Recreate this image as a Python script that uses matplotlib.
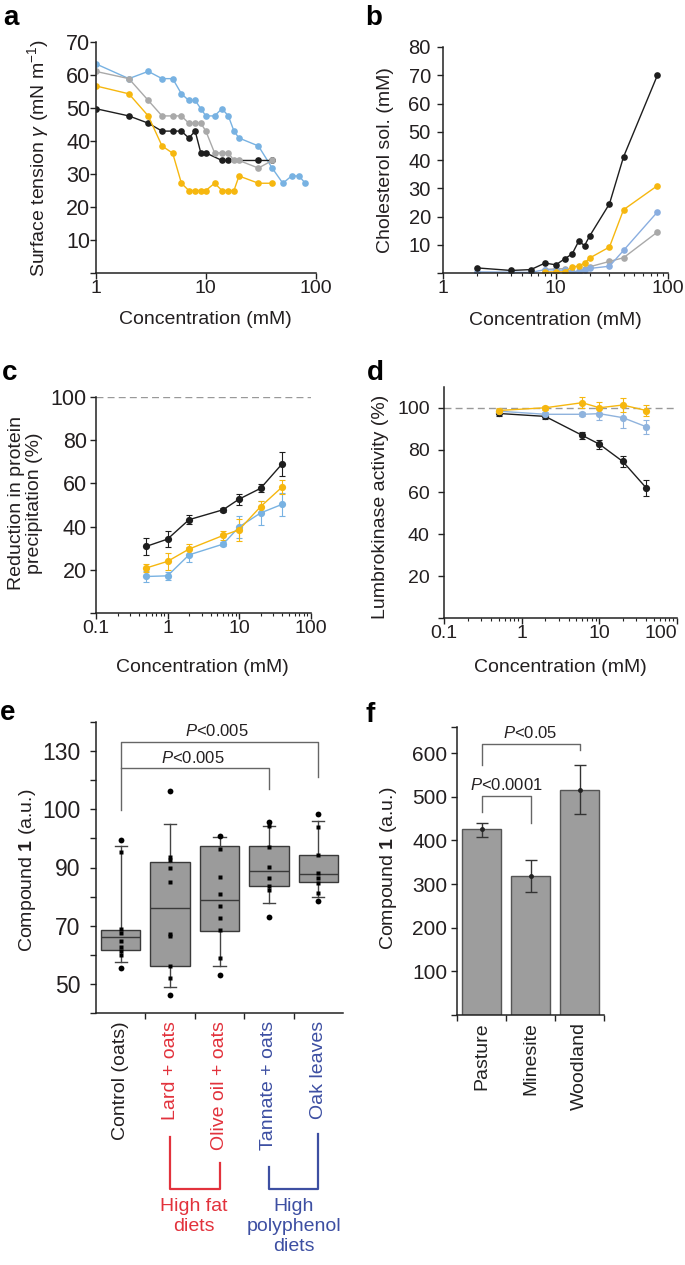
import matplotlib
matplotlib.use('Agg')
import matplotlib.pyplot as plt
import numpy as np

plt.rcParams['font.family'] = ['Liberation Sans', 'DejaVu Sans']
plt.rcParams['mathtext.fontset'] = 'custom'
plt.rcParams['mathtext.rm'] = 'Liberation Sans'
plt.rcParams['mathtext.it'] = 'Liberation Sans:italic'
plt.rcParams['mathtext.bf'] = 'Liberation Sans:bold'

# colours
BLACK = '#1e1e1e'
YELLOW = '#f6b70f'
BLUE = '#78b2e2'
GRAY = '#a9a9a9'
RED = '#e2323c'
NAVY = '#3d4fa2'
TXT = '#231f20'

# ---- panel a: surface tension (mN/m) vs concentration (mM)
a_conc = [1, 2, 3, 4, 5, 6, 7, 8, 9, 10, 12, 14, 16, 18, 20, 30, 40, 50, 60, 70, 80]
a_blue = [63.4, 58.9, 61.1, 58.9, 58.9, 54.3, 52.3, 52.3, 49.8, 47.6, 47.6, 49.8,
          47.6, 43.0, 40.9, 38.5, 31.8, 27.2, 29.4, 29.4, 27.2]
a_conc_short = [1, 2, 3, 4, 5, 6, 7, 8, 9, 10, 12, 14, 16, 18, 20, 30, 40]
a_gray = [61.1, 58.9, 52.3, 47.6, 47.6, 47.6, 45.4, 45.4, 45.4, 43.0, 36.4, 36.4,
          36.4, 34.1, 34.1, 31.8, 34.1]
a_yellow = [56.7, 54.3, 47.6, 38.5, 36.3, 27.2, 25.0, 25.0, 25.0, 25.0, 27.2, 25.0,
            25.0, 25.0, 29.4, 27.2, 27.2]
a_black_conc = [1, 2, 3, 4, 5, 6, 7, 8, 9, 10, 14, 16, 30, 40]
a_black = [49.8, 47.6, 45.4, 43.0, 43.0, 43.0, 40.9, 43.0, 36.4, 36.4, 34.1, 34.1, 34.1, 34.1]

# ---- panel b: cholesterol solubilised (mM)
b_black_conc = [2, 4, 6, 8, 10, 12, 14, 16, 18, 20, 30, 40, 80]
b_black = [1.8, 0.9, 1.2, 3.5, 2.9, 5.0, 6.8, 11.3, 9.7, 13.1, 24.5, 41.1, 70.0]
b_yellow_conc = [8, 10, 12, 14, 16, 18, 20, 30, 40, 80]
b_yellow = [0.4, 0.4, 0.4, 2.1, 2.5, 3.5, 5.3, 9.2, 22.4, 30.9]
b_blue_conc = [2, 4, 6, 8, 10, 12, 14, 16, 18, 20, 30, 40, 80]
b_blue = [0.4, 0.3, 0.2, 1.2, 1.0, 1.0, 0.3, 0.6, 1.2, 1.6, 2.4, 8.0, 21.6]
b_gray_conc = [8, 10, 12, 14, 16, 18, 20, 30, 40, 80]
b_gray = [1.2, 1.5, 1.5, 0.3, 0.3, 1.5, 2.2, 4.1, 5.4, 14.5]

# ---- panel c: reduction in protein precipitation (%)
c_conc = [0.5, 1, 2, 6, 10, 20, 40]
c_black = [30.8, 34.2, 43.2, 47.8, 52.7, 57.7, 69.0]
c_black_err = [3.9, 3.8, 2.2, 1.0, 2.5, 1.8, 5.7]
c_yellow = [20.8, 23.9, 29.6, 35.9, 38.5, 49.2, 58.3]
c_yellow_err = [2.0, 3.9, 2.5, 2.0, 5.0, 2.5, 3.4]
c_blue = [16.9, 17.2, 26.9, 31.9, 39.8, 46.3, 50.3]
c_blue_err = [2.5, 1.8, 3.5, 1.0, 5.0, 5.5, 5.3]

# ---- panel d: lumbrokinase activity (%)
d_conc = [0.5, 2, 6, 10, 20, 40]
d_black = [97.3, 95.9, 86.9, 82.7, 74.5, 62.0]
d_black_err = [1.0, 1.0, 1.5, 2.2, 2.8, 3.7]
d_yellow = [98.7, 100.0, 102.4, 100.0, 101.3, 98.7]
d_yellow_err = [1.0, 1.0, 2.7, 2.5, 3.5, 2.5]
d_blue = [98.4, 96.9, 96.9, 97.2, 95.3, 91.0]
d_blue_err = [1.0, 1.0, 1.0, 2.8, 5.0, 3.3]

# ---- panel e: compound 1 by diet (box plots)
e_groups = ['Control (oats)', 'Lard + oats', 'Olive oil + oats', 'Tannate + oats', 'Oak leaves']
e_label_colors = [TXT, RED, RED, NAVY, NAVY]
e_q1 = [61.6, 56.1, 68.3, 83.6, 85.1]
e_med = [66.0, 76.0, 78.8, 88.7, 87.8]
e_q3 = [68.6, 91.8, 97.5, 97.3, 94.4]
e_lo = [57.6, 49.0, 56.0, 77.9, 79.8]
e_hi = [97.3, 104.9, 100.4, 104.1, 106.0]
e_points = [
    [99.3, 95.2, 68.8, 67.4, 64.6, 62.7, 61.2, 60.1, 55.4],
    [116.2, 93.6, 92.7, 89.9, 85.0, 67.1, 66.3, 56.1, 52.1, 46.1],
    [100.7, 96.5, 86.8, 81.0, 76.6, 72.8, 68.5, 58.9, 53.2],
    [105.8, 104.1, 97.0, 90.2, 86.5, 83.6, 82.2, 73.0],
    [108.3, 103.9, 94.4, 88.2, 86.5, 84.8, 81.1, 78.5],
]
# tick labels as printed on the original axis
e_ytick_labels = {50: '50', 70: '70', 90: '90', 110: '100', 130: '130'}

# ---- panel f: compound 1 by site (bars)
f_sites = ['Pasture', 'Minesite', 'Woodland']
f_mean = [426, 318, 516]
f_err_low = [18, 37, 56]
f_err_high = [15, 38, 57]


fig = plt.figure(figsize=(6.85, 12.65), dpi=100)
W, H = 685.0, 1265.0


def add_ax(left, right, top, bottom):
    return fig.add_axes([left / W, 1 - bottom / H, (right - left) / W, (bottom - top) / H])


def style(ax, ysize=15, ypad=2):
    for s in ['top', 'right']:
        ax.spines[s].set_visible(False)
    for s in ['left', 'bottom']:
        ax.spines[s].set_linewidth(1.1)
        ax.spines[s].set_color('#222222')
    ax.tick_params(which='major', direction='out', length=4, width=1.0,
                   labelsize=14, pad=1, colors='#222222', labelcolor=TXT)
    ax.tick_params(which='minor', direction='out', length=2.5, width=0.8, colors='#222222')
    ax.tick_params(axis='y', labelsize=ysize, pad=ypad)


def set_labels(ax, xlabel, xpos, ylabel, ypos):
    if xlabel:
        ax.set_xlabel(xlabel, fontsize=14, color=TXT)
        ax.xaxis.set_label_coords(*xpos)
        ax.xaxis.label.set_va('center')
    ax.set_ylabel(ylabel, fontsize=14, color=TXT, linespacing=1.1)
    ax.yaxis.set_label_coords(*ypos)
    ax.yaxis.label.set_va('center')


line_kw = dict(marker='o', lw=1.0, ms=4.8, mec='none')

# ---------------- a
ax = add_ax(95.7, 316, 42, 273)
style(ax, 15.5, 0)
ax.plot(a_conc, a_blue, color=BLUE, **line_kw)
ax.plot(a_black_conc, a_black, color=BLACK, **line_kw)
ax.plot(a_conc_short, a_gray, color=GRAY, **line_kw)
ax.plot(a_conc_short, a_yellow, color=YELLOW, **line_kw)
ax.set_xscale('log')
ax.set_xlim(1, 100)
ax.set_ylim(0, 70)
ax.set_xticks([1, 10, 100], labels=['1', '10', '100'])
ax.xaxis.set_minor_locator(matplotlib.ticker.NullLocator())
ax.set_yticks(range(0, 71, 10), labels=[''] + [str(v) for v in range(10, 71, 10)])
set_labels(ax, 'Concentration (mM)', (0.496, -0.203),
           r'Surface tension $\gamma$ (mN m$^{-1}$)', (-0.262, 0.5))

# ---------------- b
ax = add_ax(443.3, 668.3, 47, 273)
style(ax, 14.5, 5)
ax.plot(b_gray_conc, b_gray, color=GRAY, **line_kw)
ax.plot(b_blue_conc, b_blue, color='#8aaee0', **line_kw)
ax.plot(b_yellow_conc, b_yellow, color=YELLOW, **line_kw)
ax.plot(b_black_conc, b_black, color=BLACK, **line_kw)
ax.set_xscale('log')
ax.set_xlim(1, 100)
ax.set_ylim(0, 80)
ax.set_xticks([1, 10, 100], labels=['1', '10', '100'])
ax.xaxis.set_minor_formatter(matplotlib.ticker.NullFormatter())
ax.set_yticks(range(0, 81, 10), labels=[''] + [str(v) for v in range(10, 81, 10)])
set_labels(ax, 'Concentration (mM)', (0.5, -0.208),
           'Cholesterol sol. (mM)', (-0.259, 0.5))

# ---------------- c
ax = add_ax(96, 310.5, 397, 613)
style(ax, 15.5, 2.5)
ax.axhline(100, color='#999999', lw=1.0, ls=(0, (5, 3)), zorder=1)
err_kw = dict(marker='o', lw=1.0, ms=5.2, mec='none', capsize=2.2, elinewidth=0.8, capthick=0.8)
ax.errorbar(c_conc, c_blue, yerr=c_blue_err, color=BLUE, **err_kw)
ax.errorbar(c_conc, c_yellow, yerr=c_yellow_err, color=YELLOW, **err_kw)
ax.errorbar(c_conc, c_black, yerr=c_black_err, color=BLACK, **err_kw)
ax.set_xscale('log')
ax.set_xlim(0.1, 100)
ax.set_ylim(0, 100)
ax.set_xticks([0.1, 1, 10, 100], labels=['0.1', '1', '10', '100'])
ax.xaxis.set_minor_formatter(matplotlib.ticker.NullFormatter())
ax.set_yticks(range(0, 101, 20), labels=[''] + [str(v) for v in range(20, 101, 20)])
set_labels(ax, 'Concentration (mM)', (0.496, -0.25),
           'Reduction in protein\nprecipitation (%)', (-0.33, 0.51))

# ---------------- d
ax = add_ax(444.3, 677, 386.7, 618.4)
style(ax, 14, 6.5)
ax.axhline(100, color='#999999', lw=1.0, ls=(0, (5, 3)), zorder=1)
ax.errorbar(d_conc, d_black, yerr=d_black_err, color=BLACK, **err_kw)
ax.errorbar(d_conc, d_blue, yerr=d_blue_err, color='#8fb3dd', **err_kw)
ax.errorbar(d_conc, d_yellow, yerr=d_yellow_err, color=YELLOW, **err_kw)
ax.set_xscale('log')
ax.set_xlim(0.1, 100)
ax.set_ylim(0, 110)
ax.set_xticks([0.1, 1, 10, 100], labels=['0.1', '1', '10', '100'])
ax.xaxis.set_minor_formatter(matplotlib.ticker.NullFormatter())
ax.get_xticklabels()[-1].set_ha('right')
ax.set_yticks(range(0, 101, 20), labels=[''] + [str(v) for v in range(20, 101, 20)])
set_labels(ax, 'Concentration (mM)', (0.5, -0.21),
           'Lumbrokinase activity (%)', (-0.276, 0.48))

# ---------------- e
ax = add_ax(96, 343, 722, 1013)
style(ax, 16.5, 7)
pos = np.arange(len(e_groups))
stats = [dict(med=m, q1=a, q3=b, whislo=lo, whishi=hi, fliers=[])
         for m, a, b, lo, hi in zip(e_med, e_q1, e_q3, e_lo, e_hi)]
ax.bxp(stats, positions=pos, widths=0.8, capwidths=0.25, patch_artist=True,
       showfliers=False,
       boxprops=dict(facecolor='#9b9b9b', edgecolor='#3a3a3a', linewidth=1.0),
       medianprops=dict(color='#3a3a3a', linewidth=1.0),
       whiskerprops=dict(color='#444444', linewidth=1.0),
       capprops=dict(color='#444444', linewidth=1.0))
for i, pts in enumerate(e_points):
    pts = np.array(pts)
    out = (pts > e_hi[i]) | (pts < e_lo[i])
    ax.plot(np.full(out.sum(), i), pts[out], 'o', color='black', ms=4.2, mec='none', zorder=4)
    ax.plot(np.full((~out).sum(), i), pts[~out], 's', color='black', ms=2.3, mec='none', zorder=4)
ax.set_xlim(-0.5, 4.5)
ax.set_ylim(40, 140)
ax.set_yticks(range(40, 141, 10),
              labels=[e_ytick_labels.get(v, '') for v in range(40, 141, 10)])
ax.set_xticks([0.5, 1.5, 2.5, 3.5], labels=[''] * 4)
ax.set_xticks(pos, labels=e_groups, minor=True, rotation=90, fontsize=14)
ax.tick_params(axis='x', which='minor', length=0, pad=6)
for lab, col in zip(ax.get_xticklabels(minor=True), e_label_colors):
    lab.set_color(col)
set_labels(ax, None, None, r'Compound $\mathbf{1}$ (a.u.)', (-0.279, 0.49))

# significance brackets
br = dict(color='#666666', lw=1.0, clip_on=False)
ax.plot([0, 0, 4, 4], [109.8, 133.1, 133.1, 121.0], **br)
ax.plot([0, 3, 3], [124.1, 124.1, 117.1], **br)
ax.text(1.95, 134.0, r'$P$<0.005', ha='center', va='bottom', fontsize=12, color=TXT)
ax.text(1.45, 125.0, r'$P$<0.005', ha='center', va='bottom', fontsize=12, color=TXT)

# diet group brackets below the axis
tr = matplotlib.transforms.blended_transform_factory(ax.transData, ax.transAxes)
ax.plot([1, 1, 2, 2], [-0.426, -0.605, -0.605, -0.515], color=RED, lw=1.6,
        transform=tr, clip_on=False)
ax.plot([3, 3, 4, 4], [-0.529, -0.605, -0.605, -0.416], color=NAVY, lw=1.6,
        transform=tr, clip_on=False)
ax.text(1.48, -0.635, 'High fat\ndiets', transform=tr, ha='center', va='top',
        fontsize=14, color=RED, linespacing=1.25)
ax.text(3.5, -0.635, 'High\npolyphenol\ndiets', transform=tr, ha='center', va='top',
        fontsize=14, color=NAVY, linespacing=1.25)

# ---------------- f
ax = add_ax(457, 604, 727, 1015)
style(ax, 15, 3)
xf = np.arange(len(f_sites))
ax.bar(xf, f_mean, width=0.8, color='#9d9d9d', edgecolor='#555555', linewidth=1.0,
       yerr=[f_err_low, f_err_high], capsize=4,
       error_kw=dict(elinewidth=1.0, ecolor='#333333', capthick=1.0))
ax.plot(xf, f_mean, 'o', color='#222222', ms=2.5)
ax.set_xlim(-0.5, 2.5)
ax.set_ylim(0, 660)
ax.set_yticks(list(range(0, 601, 100)) + [660],
              labels=[''] + [str(v) for v in range(100, 601, 100)] + [''])
ax.set_xticks([-0.5, 0.5, 1.5, 2.5], labels=[''] * 4)
ax.set_xticks(xf, labels=f_sites, minor=True, rotation=90, fontsize=14)
ax.tick_params(axis='x', which='minor', length=0, pad=5)
set_labels(ax, None, None, r'Compound $\mathbf{1}$ (a.u.)', (-0.469, 0.51))

ax.plot([0, 0, 2, 2], [573, 621, 621, 607], **br)
ax.plot([0, 0, 1, 1], [465, 502, 502, 439], **br)
ax.text(1.0, 627, r'$P$<0.05', ha='center', va='bottom', fontsize=12, color=TXT)
ax.text(0.5, 508, r'$P$<0.0001', ha='center', va='bottom', fontsize=12, color=TXT)

# panel letters
for letter, x, y in [('a', 3, 25), ('b', 365, 25), ('c', 2, 380),
                     ('d', 367, 380), ('e', 0, 720), ('f', 365, 722)]:
    fig.text(x / W, 1 - y / H, letter, fontsize=20, fontweight='bold',
             va='baseline', ha='left', color='black')

fig.savefig('out.png', dpi=100)
